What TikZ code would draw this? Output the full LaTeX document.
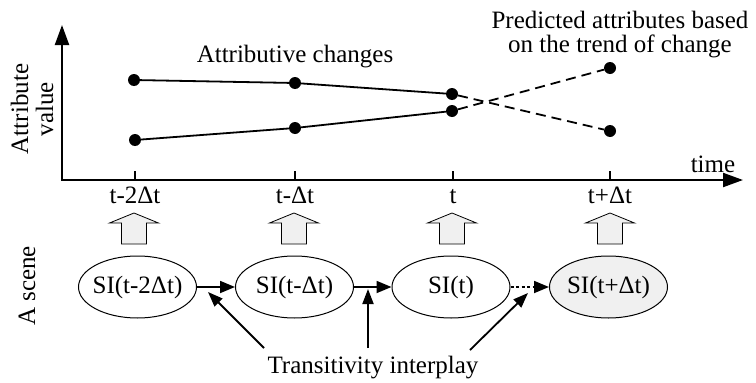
\documentclass[tikz,border=0pt]{standalone}
\usepackage{fontspec}
\setmainfont{Liberation Serif}
\usetikzlibrary{arrows.meta,shapes.geometric}

\begin{document}
\begin{tikzpicture}[x=1pt,y=-1pt,
  txt/.style={font=\fontsize{25}{25}\selectfont,inner sep=0pt},
  dot/.style={circle,fill=black,inner sep=0pt,minimum size=12pt},
  axis/.style={line width=2.2pt,line join=miter,
    {Triangle[length=20pt,width=14pt]}-{Triangle[length=20pt,width=14pt]}},
  tick/.style={line width=2pt},
  trend/.style={line width=1.8pt},
  pred/.style={line width=1.8pt,dash pattern=on 10pt off 6pt},
  si/.style={ellipse,draw,line width=1pt,minimum width=118pt,minimum height=62pt,
    inner xsep=-4pt,inner ysep=0pt,font=\fontsize{25}{25}\selectfont},
  link/.style={line width=1.8pt,-{Triangle[length=15pt,width=12pt]}},
  ptr/.style={line width=1.8pt,-{Triangle[length=15pt,width=11pt]}},
  blockup/.pic={\draw[line width=0.8pt,fill=gray!12]
    (-12.5,31) -- (-12.5,10) -- (-24.5,10) -- (0,0) -- (24.5,10) -- (12.5,10) -- (12.5,31) -- cycle;}
]
\useasboundingbox (0,0) rectangle (756,383);

% axes
\coordinate (O) at (62,180);
\coordinate (ytop) at (62,25);
\coordinate (xend) at (743,180);
\draw[axis] (ytop) -- (O) -- (xend);
\foreach \x in {135,295,453,610} \draw[tick] (\x,171) -- (\x,180);

\node[txt,rotate=90,align=center] (yl) at (32,109) {Attribute\\value};
\node[txt,anchor=base] (xl) at (713,172) {time};

% attribute trends
\node[dot] (u1) at (134,80) {};
\node[dot] (u2) at (295,83) {};
\node[dot] (u3) at (452,94) {};
\node[dot] (l1) at (135,140) {};
\node[dot] (l2) at (295,128) {};
\node[dot] (l3) at (452,111) {};
\node[dot] (r1) at (610,68) {};
\node[dot] (r2) at (610,131) {};
\draw[trend] (u1) -- (u2) -- (u3);
\draw[trend] (l1) -- (l2) -- (l3);
\draw[pred] (u3) -- (r2);
\draw[pred] (l3) -- (r1);

\node[txt,anchor=base] (chg) at (295,62) {Attributive changes};
\node[txt,anchor=base] (pr1) at (620,28) {Predicted attributes based};
\node[txt,anchor=base] (pr2) at (620,52) {on the trend of change};

% time labels and lifting arrows
\node[txt,anchor=base] (tl1) at (135,203) {t-2Δt};
\node[txt,anchor=base] (tl2) at (295,203) {t-Δt};
\node[txt,anchor=base] (tl3) at (453,203) {t};
\node[txt,anchor=base] (tl4) at (610,203) {t+Δt};
\pic at (134,213) {blockup};
\pic at (294,213) {blockup};
\pic at (452,213) {blockup};
\pic at (610,213) {blockup};

% scene instances
\node[txt,rotate=90,anchor=base] (sc) at (35,286) {A scene};
\node[si] (e1) at (137.5,287) {SI(t-2Δt)};
\node[si] (e2) at (294.5,287) {SI(t-Δt)};
\node[si] (e3) at (451,287) {SI(t)};
\node[si,fill=gray!12] (e4) at (608.5,287) {SI(t+Δt)};
\draw[link] (e1.east) -- (e2.west);
\draw[link] (e2.east) -- (e3.west);
\draw[link,dash pattern=on 3pt off 2.5pt] (e3.east) -- (e4.west);

% transitivity pointers
\node[txt,anchor=base] (tr) at (373,373) {Transitivity interplay};
\coordinate (p1s) at (264,348);
\coordinate (p1e) at (208,292);
\coordinate (p2s) at (368,348);
\coordinate (p2e) at (368,289);
\coordinate (p3s) at (470,350);
\coordinate (p3e) at (528,293);
\draw[ptr] (p1s) -- (p1e);
\draw[ptr] (p2s) -- (p2e);
\draw[ptr] (p3s) -- (p3e);
\end{tikzpicture}
\end{document}
